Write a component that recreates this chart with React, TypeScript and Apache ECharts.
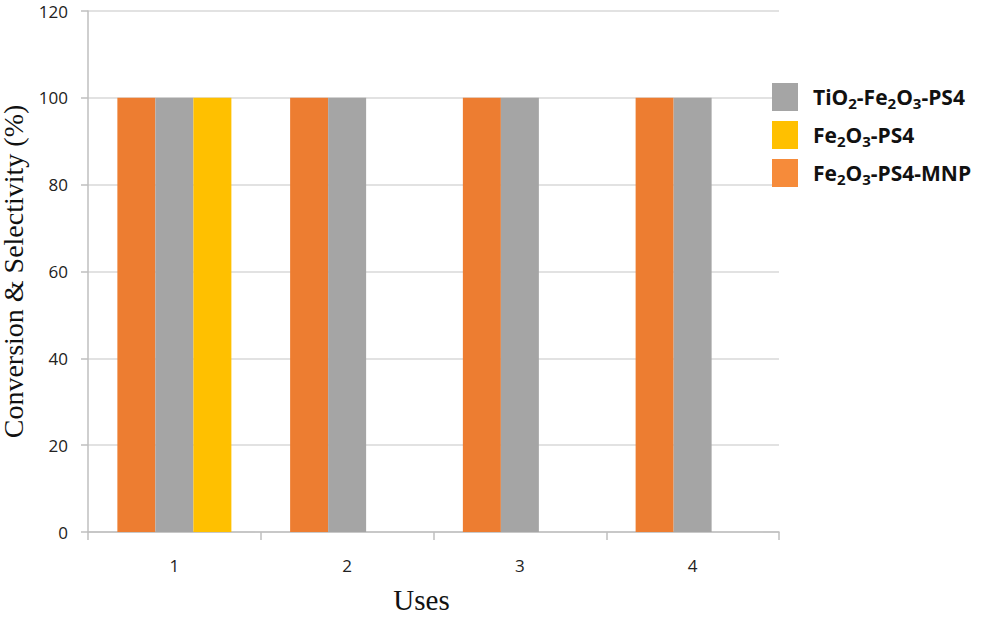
import React, { useEffect, useRef } from "react";
import * as echarts from "echarts";

const categories = ["1", "2", "3", "4"];
const mnpValues = [100, 100, 100, 100];
const tio2Values = [100, 100, 100, 100];
const fe2o3Values: (number | null)[] = [100, null, null, null];

const NAME_MNP = "Fe2O3-PS4-MNP";
const NAME_TIO2 = "TiO2-Fe2O3-PS4";
const NAME_FE = "Fe2O3-PS4";

const legendRich: Record<string, string> = {
  [NAME_TIO2]: "{n|TiO}{s|2}{n|-Fe}{s|2}{n|O}{s|3}{n|-PS4}",
  [NAME_FE]: "{n|Fe}{s|2}{n|O}{s|3}{n|-PS4}",
  [NAME_MNP]: "{n|Fe}{s|2}{n|O}{s|3}{n|-PS4-MNP}",
};

export default function App() {
  const ref = useRef<HTMLDivElement>(null);
  useEffect(() => {
    if (!ref.current) return;
    const chart = echarts.init(ref.current, null, { renderer: "svg" });
    chart.setOption({
      animation: false,
      backgroundColor: "#fff",
      grid: {
        left: 88,
        right: 215,
        top: 11,
        bottom: 86,
        containLabel: false,
        outerBoundsMode: "none",
      },
      legend: {
        orient: "vertical",
        left: 767,
        top: 78,
        itemWidth: 26,
        itemHeight: 28,
        itemGap: 10,
        icon: "rect",
        data: [
          { name: NAME_TIO2 },
          { name: NAME_FE },
          { name: NAME_MNP, itemStyle: { color: "#F68B3A" } },
        ],
        formatter: (name: string) => legendRich[name] || name,
        textStyle: {
          color: "#111",
          padding: [0, 0, 0, 10],
          rich: {
            n: { fontFamily: "Open Sans", fontWeight: "bold", fontSize: 21, color: "#111" },
            s: {
              fontFamily: "Open Sans",
              fontWeight: "bold",
              fontSize: 15,
              color: "#111",
              padding: [12, 0, 0, 0],
            },
          },
        },
      },
      xAxis: {
        type: "category",
        data: categories,
        name: "Uses",
        nameLocation: "middle",
        nameGap: 53,
        nameTextStyle: {
          fontFamily: "Liberation Serif",
          fontSize: 29,
          color: "#111",
          padding: [0, 24, 0, 0],
        },
        axisLine: { lineStyle: { color: "#BFBFBF", width: 1.5 } },
        axisTick: { show: true, length: 8, lineStyle: { color: "#BFBFBF", width: 1.5 } },
        axisLabel: {
          fontFamily: "Open Sans",
          fontSize: 17,
          color: "#222",
          margin: 25,
        },
      },
      yAxis: {
        type: "value",
        min: 0,
        max: 120,
        interval: 20,
        name: "Conversion & Selectivity (%)",
        nameLocation: "middle",
        nameGap: 47,
        nameTextStyle: {
          fontFamily: "Liberation Serif",
          fontSize: 28,
          lineHeight: 28,
          color: "#111",
        },
        axisLine: { show: true, lineStyle: { color: "#BFBFBF", width: 1.5 } },
        axisTick: { show: true, length: 7, lineStyle: { color: "#BFBFBF", width: 1.5 } },
        splitLine: { lineStyle: { color: "#D9D9D9", width: 1.5 } },
        axisLabel: {
          fontFamily: "Open Sans",
          fontSize: 17,
          color: "#222",
          margin: 20,
        },
      },
      series: [
        {
          name: NAME_MNP,
          type: "bar",
          data: mnpValues,
          itemStyle: { color: "#ED7D31" },
          barGap: "0%",
          barCategoryGap: "34%",
        },
        {
          name: NAME_TIO2,
          type: "bar",
          data: tio2Values,
          itemStyle: { color: "#A5A5A5" },
          barGap: "0%",
          barCategoryGap: "34%",
        },
        {
          name: NAME_FE,
          type: "bar",
          data: fe2o3Values,
          itemStyle: { color: "#FFC000" },
          barGap: "0%",
          barCategoryGap: "34%",
        },
      ],
    });
    return () => chart.dispose();
  }, []);
  return (
    <div
      ref={ref}
      style={{ position: "fixed", left: 0, top: 0, width: 994, height: 618 }}
    />
  );
}
